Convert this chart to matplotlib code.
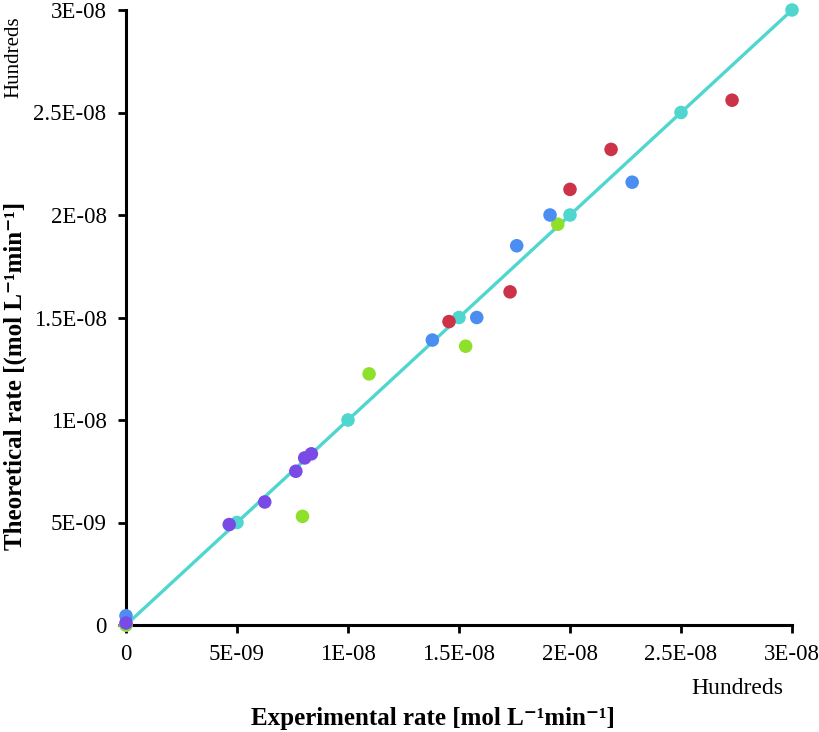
import matplotlib
matplotlib.use("Agg")
import matplotlib.pyplot as plt

plt.rcParams['font.family'] = ['Liberation Serif', 'DejaVu Serif']

# values in units of 1e-9 mol/L/min
fit_x = [0, 5, 10, 15, 20, 25, 30]
fit_y = [0, 5, 10, 15, 20, 25, 30]

blue_x = [0, 13.8, 15.8, 17.6, 19.1, 22.8]
blue_y = [0.45, 13.9, 15.0, 18.5, 20.0, 21.6]

red_x = [14.55, 17.3, 20.0, 21.85, 27.3]
red_y = [14.8, 16.25, 21.25, 23.2, 25.6]

green_x = [0, 7.95, 10.95, 15.3, 19.45]
green_y = [0, 5.3, 12.25, 13.6, 19.55]

purple_x = [0, 4.65, 6.25, 7.65, 8.05, 8.35]
purple_y = [0.1, 4.9, 6.0, 7.5, 8.15, 8.35]

ticks = [0, 5, 10, 15, 20, 25, 30]
tick_labels = ['0', '5E-09', '1E-08', '1.5E-08', '2E-08', '2.5E-08', '3E-08']

fig = plt.figure(figsize=(8.19, 7.32), dpi=100)
ax = fig.add_axes([126/819, 1-625/732, (792-126)/819, (625-10)/732])

ms = 95
ax.plot(fit_x, fit_y, color='#4fd6cf', lw=2.4, zorder=2, clip_on=False)
ax.scatter(fit_x, fit_y, s=ms, color='#4fd6cf', zorder=3, clip_on=False, edgecolors='none')
ax.scatter(green_x, green_y, s=ms, color='#8ee02b', zorder=4, clip_on=False, edgecolors='none')
ax.scatter(blue_x, blue_y, s=ms, color='#4b8ef2', zorder=4, clip_on=False, edgecolors='none')
ax.scatter(red_x, red_y, s=ms, color='#cc3349', zorder=4, clip_on=False, edgecolors='none')
ax.scatter(purple_x, purple_y, s=ms, color='#7a4ae6', zorder=5, clip_on=False, edgecolors='none')

ax.set_xlim(0, 30)
ax.set_ylim(0, 30)
ax.set_xticks(ticks)
ax.set_xticklabels(tick_labels)
ax.set_yticks(ticks)
ax.set_yticklabels(tick_labels)
ax.tick_params(axis='both', labelsize=16.5, length=6, width=2, direction='out', pad=8)

for s in ['top', 'right']:
    ax.spines[s].set_visible(False)
for s in ['left', 'bottom']:
    ax.spines[s].set_linewidth(2.2)

# axis titles placed like the original (y title sits lower than axis centre)
fig.text(433/819, 1-719/732, 'Experimental rate [mol L\u207b\u00b9min\u207b\u00b9]',
         fontsize=18, fontweight='bold', ha='center', va='center')
fig.text(15/819, 1-376/732, 'Theoretical rate [(mol L\u207b\u00b9min\u207b\u00b9]',
         fontsize=18, fontweight='bold', rotation=90, ha='center', va='center')

fig.text(737/819, 1-688/732, 'Hundreds', fontsize=17, ha='center', va='center')
fig.text(14/819, 1-57/732, 'Hundreds', fontsize=15, rotation=90, ha='center', va='center')

fig.savefig('out.png', dpi=100)
